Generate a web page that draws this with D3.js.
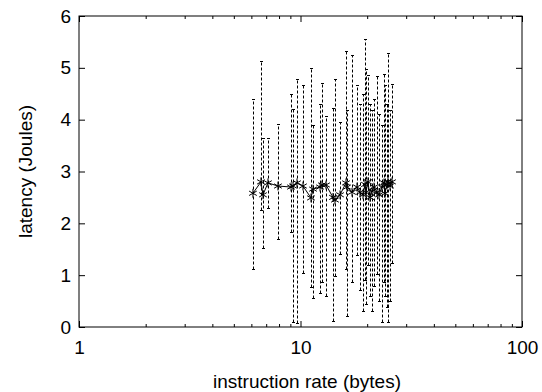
<!DOCTYPE html>
<html>
<head>
<meta charset="utf-8">
<script src="https://cdn.jsdelivr.net/npm/d3@7"></script>
<style>
  body { margin: 0; background: #fff; }
  text { font-family: "Liberation Sans", Arial, Helvetica, sans-serif; fill: #000; }
</style>
</head>
<body>
<div id="chart"></div>
<script>
// instruction rate (bytes)
const xs = [6.10, 6.63, 6.77, 7.13, 7.91, 9.06, 9.25, 9.64, 10.26, 11.15, 11.39, 12.25, 12.50, 13.04,
  14.02, 14.31, 15.08, 16.05, 16.22, 17.08, 17.99, 18.56, 19.15, 19.56, 19.76, 20.17, 20.60, 21.03,
  21.47, 22.15, 22.62, 23.33, 23.82, 24.07, 24.58, 24.83, 25.36, 25.89];
// latency (Joules)
const means = [2.58, 2.80, 2.55, 2.78, 2.72, 2.70, 2.72, 2.78, 2.72, 2.49, 2.66, 2.70, 2.74, 2.74,
  2.50, 2.45, 2.55, 2.78, 2.70, 2.60, 2.70, 2.60, 2.55, 2.75, 2.60, 2.80, 2.50, 2.62,
  2.70, 2.60, 2.55, 2.70, 2.78, 2.58, 2.75, 2.80, 2.72, 2.80];
const lows = [1.12, 2.26, 1.53, 2.30, 1.70, 1.83, 0.10, 0.07, 1.05, 0.78, 0.55, 0.66, 0.87, 0.59,
  0.12, 0.99, 1.41, 1.12, 0.22, 0.86, 1.39, 0.72, 0.30, 0.90, 0.45, 1.20, 0.60, 0.30,
  0.80, 1.03, 0.50, 0.09, 0.86, 0.60, 0.39, 0.09, 0.50, 1.24];
const highs = [4.39, 5.14, 3.65, 3.65, 3.91, 4.49, 4.20, 4.78, 4.66, 4.99, 3.90, 4.30, 4.70, 4.07,
  4.22, 4.78, 3.95, 5.32, 4.18, 5.24, 4.66, 4.30, 4.50, 5.55, 4.97, 4.86, 4.30, 4.18,
  4.40, 4.84, 4.10, 3.89, 4.88, 4.66, 4.30, 5.28, 4.18, 4.68];
const xTicks = [1, 10, 100];
const yTicks = [0, 1, 2, 3, 4, 5, 6];

const width = 542, height = 392;
const margin = { top: 16, right: 20, bottom: 65, left: 79 };
const fontSize = '19px';

const svg = d3.select('#chart').append('svg')
  .attr('width', width)
  .attr('height', height);

const x = d3.scaleLog().domain([1, 100]).range([margin.left, width - margin.right]);
const y = d3.scaleLinear().domain([0, 6]).range([height - margin.bottom, margin.top]);

const data = xs.map((v, i) => ({ x: v, y: means[i], lo: lows[i], hi: highs[i] }));

// inward ticks, mirrored on top and right like gnuplot
const minor = [];
for (let d = 1; d < 100; d *= 10) for (let k = 2; k <= 9; k++) minor.push(d * k);

const axisStyle = g => {
  g.select('.domain').remove();
  g.selectAll('.tick line').attr('stroke', '#000');
  g.selectAll('.tick text').style('font-size', fontSize);
};

svg.append('g')
  .attr('transform', `translate(0,${y(0)})`)
  .call(d3.axisBottom(x).tickValues(xTicks).tickFormat(d3.format('d')).tickSizeInner(-6).tickPadding(14))
  .call(axisStyle);
svg.append('g')
  .attr('transform', `translate(0,${y(0)})`)
  .call(d3.axisBottom(x).tickValues(minor).tickFormat('').tickSizeInner(-3))
  .call(axisStyle);
svg.append('g')
  .attr('transform', `translate(0,${y(6)})`)
  .call(d3.axisTop(x).tickValues(xTicks).tickFormat('').tickSizeInner(-6))
  .call(axisStyle);
svg.append('g')
  .attr('transform', `translate(0,${y(6)})`)
  .call(d3.axisTop(x).tickValues(minor).tickFormat('').tickSizeInner(-3))
  .call(axisStyle);
svg.append('g')
  .attr('transform', `translate(${x(1)},0)`)
  .call(d3.axisLeft(y).tickValues(yTicks).tickFormat(d3.format('d')).tickSizeInner(-6).tickPadding(8))
  .call(axisStyle);
svg.append('g')
  .attr('transform', `translate(${x(100)},0)`)
  .call(d3.axisRight(y).tickValues(yTicks).tickFormat('').tickSizeInner(-6))
  .call(axisStyle);

svg.append('rect')
  .attr('x', x(1)).attr('y', y(6))
  .attr('width', x(100) - x(1)).attr('height', y(0) - y(6))
  .attr('fill', 'none').attr('stroke', '#000').attr('stroke-width', 1);

// error bars
const bars = svg.append('g')
  .attr('stroke', '#000')
  .attr('stroke-width', 1)
  .attr('stroke-dasharray', '3,2')
  .attr('fill', 'none');

bars.selectAll('path')
  .data(data)
  .enter()
  .append('path')
  .attr('d', d => {
    const cx = Math.round(x(d.x)) + 0.5;
    const lo = Math.round(y(d.lo)) + 0.5, hi = Math.round(y(d.hi)) + 0.5;
    return `M${cx},${lo}V${hi}M${cx - 1.5},${lo}h3M${cx - 1.5},${hi}h3`;
  });

// mean line
svg.append('path')
  .datum(data)
  .attr('fill', 'none')
  .attr('stroke', '#000')
  .attr('stroke-width', 1)
  .attr('d', d3.line().x(d => x(d.x)).y(d => y(d.y)));

// asterisk markers
const star = d3.symbol().type(d3.symbolAsterisk).size(55);
svg.append('g')
  .selectAll('path')
  .data(data)
  .enter()
  .append('path')
  .attr('transform', d => `translate(${x(d.x)},${y(d.y)})`)
  .attr('d', star)
  .attr('fill', 'none')
  .attr('stroke', '#000')
  .attr('stroke-width', 1);

svg.append('text')
  .attr('x', 307)
  .attr('y', 388)
  .attr('text-anchor', 'middle')
  .style('font-size', fontSize)
  .text('instruction rate (bytes)');

svg.append('text')
  .attr('transform', `translate(32,${(y(0) + y(6)) / 2}) rotate(-90)`)
  .attr('text-anchor', 'middle')
  .style('font-size', fontSize)
  .text('latency (Joules)');
</script>
</body>
</html>
